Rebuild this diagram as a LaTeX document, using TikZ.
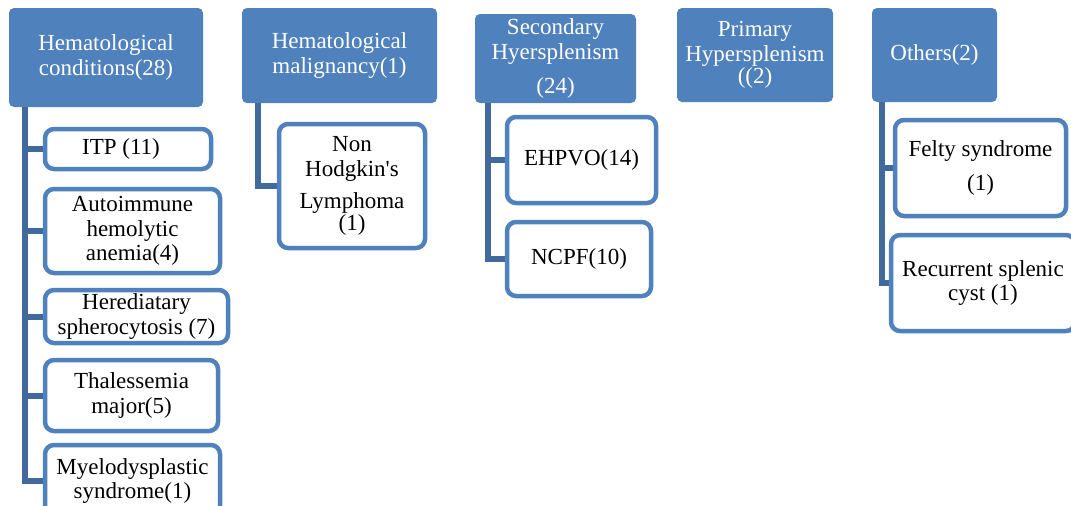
\documentclass[tikz,border=0pt]{standalone}
\usepackage{fontspec}
\setmainfont{Liberation Serif}
\usetikzlibrary{backgrounds}
\definecolor{hdr}{HTML}{4F81BD}
\definecolor{trk}{HTML}{41699C}
\begin{document}
\begin{tikzpicture}[x=1pt,y=-1pt,
  head/.style={fill=hdr,draw=none,rounded corners=5pt,text=white,align=center,
    font=\fontsize{23}{24.5}\selectfont,inner sep=0pt},
  child/.style={fill=white,draw=hdr,line width=4.5pt,rounded corners=9pt,text=black,align=center,
    font=\fontsize{23}{24.5}\selectfont,inner sep=0pt},
  trunk/.style={draw=trk,line width=6pt}]
\useasboundingbox (0,0) rectangle (1071,506);
% headers
\node[head,minimum width=194pt,minimum height=99pt] (h1) at (106,57.5) {Hematological\\conditions(28)};
\node[head,minimum width=195pt,minimum height=95pt] (h2) at (339.5,55.5) {Hematological\\malignancy(1)};
\node[head,minimum width=161pt,minimum height=89pt] (h3) at (555.5,58.5) {Secondary\\Hyersplenism\\[10pt](24)};
\node[head,minimum width=156pt,minimum height=94pt] (h4) at (755,55) {Primary\\Hypersplenism\\[-2pt]((2)};
\node[head,minimum width=125pt,minimum height=94pt] (h5) at (934.5,55) {Others(2)};
% trunk start points
\coordinate (t1) at (25,107);
\coordinate (t2) at (258,103);
\coordinate (t3) at (488,103);
\coordinate (t5) at (882,102);
% children column 1
\node[child,minimum width=166pt,minimum height=40pt] (c11) at (128,149) {ITP (11)\hspace*{14pt}};
\node[child,minimum width=175pt,minimum height=84pt] (c12) at (132.5,231) {Autoimmune\\hemolytic\\anemia(4)};
\node[child,minimum width=183pt,minimum height=53pt] (c13) at (136.5,316.5) {Herediatary\\spherocytosis (7)};
\node[child,minimum width=173pt,minimum height=71pt] (c14) at (131.5,395.5) {Thalessemia\\major(5)};
\node[child,minimum width=175pt,minimum height=72pt] (c15) at (132.5,481) {Myelodysplastic\\syndrome(1)};
% column 2
\node[child,minimum width=146pt,minimum height=124pt] (c21) at (352,186) {Non\\Hodgkin\textquotesingle s\\[8pt]Lymphoma\\[-3pt](1)};
% column 3
\node[child,minimum width=149pt,minimum height=86pt] (c31) at (581.5,160) {EHPVO(14)};
\node[child,minimum width=144pt,minimum height=74pt] (c32) at (579,259) {NCPF(10)};
% column 5
\node[child,minimum width=171pt,minimum height=96pt] (c51) at (980.5,168) {Felty syndrome\\[10pt](1)};
\node[child,minimum width=184pt,minimum height=96pt] (c52) at (983,283) {Recurrent splenic\\cyst (1)};
% trunks (drawn beneath children)
\begin{scope}[on background layer]
\draw[trunk] (t1) |- (c15.west);
\draw[trunk] (t1 |- c11.west) -- (c11.west);
\draw[trunk] (t1 |- c12.west) -- (c12.west);
\draw[trunk] (t1 |- c13.west) -- (c13.west);
\draw[trunk] (t1 |- c14.west) -- (c14.west);
\draw[trunk] (t2) |- (c21.west);
\draw[trunk] (t3) |- (c32.west);
\draw[trunk] (t3 |- c31.west) -- (c31.west);
\draw[trunk] (t5) |- (c52.west);
\draw[trunk] (t5 |- c51.west) -- (c51.west);
\end{scope}
\end{tikzpicture}
\end{document}
